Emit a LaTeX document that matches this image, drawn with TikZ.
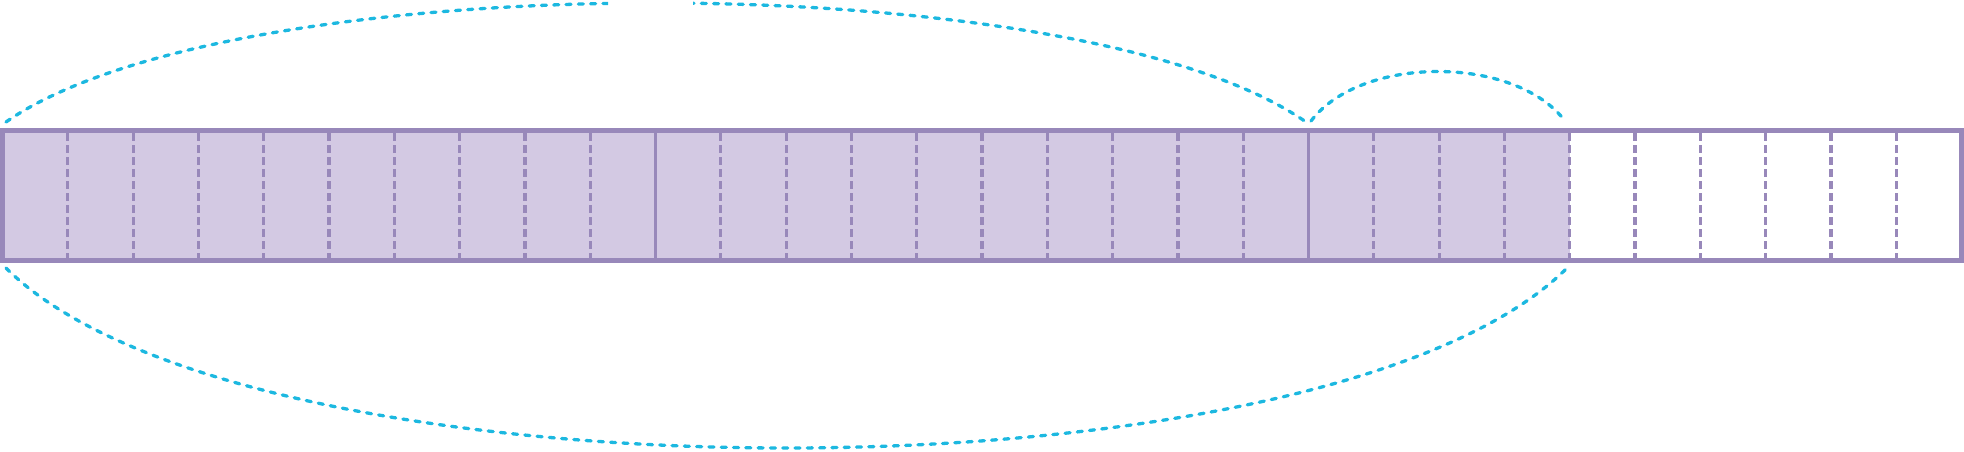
\documentclass[tikz,border=0pt]{standalone}
\definecolor{barline}{RGB}{152,136,186}
\definecolor{barfill}{RGB}{211,201,227}
\definecolor{arccol}{RGB}{28,184,224}
\begin{document}
\begin{tikzpicture}[x=1pt,y=-1pt,
  frame/.style={draw=barline,line width=5pt},
  cellsep/.style={draw=barline,line width=3.2pt,dash pattern=on 8pt off 4pt},
  groupsep/.style={draw=barline,line width=3.2pt},
  brace/.style={draw=arccol,line width=3.3pt,line cap=round,dash pattern=on 5pt off 7.3pt}]
\useasboundingbox (0,0) rectangle (1964,451);
\pgfmathsetmacro{\w}{1959/30}
% shaded part (24 of 30 cells)
\fill[barfill] (2.5,130.7) rectangle ({2.5+24*\w},260.3);
% cell separators
\foreach \i in {1,...,9,11,12,...,19,21,22,...,29}
  \draw[cellsep] ({2.5+\i*\w},133.2) -- ({2.5+\i*\w},257.8);
% group separators
\foreach \i in {10,20}
  \draw[groupsep] ({2.5+\i*\w},133.2) -- ({2.5+\i*\w},257.8);
% frame
\draw[frame] (2.5,130.7) rectangle (1961.5,260.3);
% arcs
\coordinate (A0) at (6,122);
\coordinate (A1) at (1306,122);
\coordinate (B0) at (1311,121);
\coordinate (B1) at (1565,121);
\coordinate (C0) at (6,268);
\coordinate (C1) at (1567,268);
\begin{scope}
  \clip (-10,-10) rectangle (608,200) (693,-10) rectangle (1974,200);
  \draw[brace] (A0) .. controls (233,-36.7) and (1079,-36.7) .. (A1);
\end{scope}
\draw[brace] (B0) .. controls (1361,55) and (1515,55) .. (B1);
\draw[brace] (C0) .. controls (246,508) and (1327,508) .. (C1);
\end{tikzpicture}
\end{document}
